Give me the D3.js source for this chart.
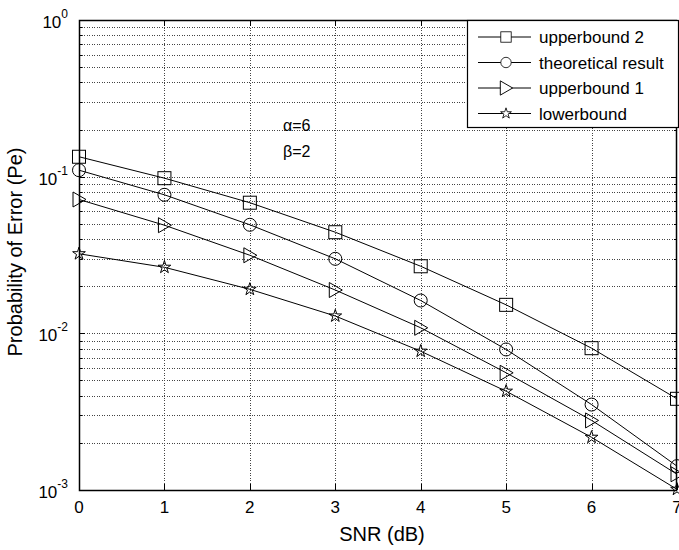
<!DOCTYPE html>
<meta charset="utf-8">
<style>
body { margin: 0; background: #fff; }
text { font-family: "Liberation Sans", Arial, sans-serif; fill: #000; }
.grid line { stroke: #444; stroke-width: 1; stroke-dasharray: 1,1.5; shape-rendering: crispEdges; }
</style>
<svg width="679" height="550"></svg>
<script src="https://d3js.org/d3.v7.min.js"></script>
<script>

var snr = [0, 1, 2, 3, 4, 5, 6, 7];
var upper2 = [0.134, 0.0978, 0.0682, 0.0442, 0.0268, 0.0152, 0.00804, 0.00382];
var theory = [0.110, 0.0766, 0.0493, 0.0299, 0.0162, 0.00789, 0.00351, 0.00142];
var upper1 = [0.0715, 0.0490, 0.0315, 0.0189, 0.01085, 0.0056, 0.00278, 0.00126];
var lower = [0.0322, 0.0264, 0.0191, 0.0129, 0.00769, 0.00427, 0.00217, 0.00101];
var seriesNames = ["upperbound 2", "theoretical result", "upperbound 1", "lowerbound"];
var yDecades = [-3, -2, -1, 0];

var svg = d3.select("svg"),
    margin = {top: 20, right: 2, bottom: 60, left: 79},
    width = +svg.attr("width") - margin.left - margin.right,
    height = +svg.attr("height") - margin.top - margin.bottom;

var x = d3.scaleLinear().domain([0, 7]).range([0, width]),
    y = d3.scaleLog().domain([1e-3, 1]).range([height, 0]);

var g = svg.append("g")
    .attr("transform", "translate(" + margin.left + "," + margin.top + ")");

// minor + major y values
var yGrid = [];
yDecades.slice(0, 3).forEach(function(e) {
  for (var k = 1; k < 10; k++) yGrid.push(k * Math.pow(10, e));
});
yGrid.push(1);

// grid
var grid = g.append("g").attr("class", "grid");
grid.selectAll(".gy").data(yGrid.filter(function(v) { return v > 1e-3 && v < 1; }))
  .enter().append("line")
    .attr("x1", 0).attr("x2", width)
    .attr("y1", function(d) { return Math.round(y(d)) + 0.5; })
    .attr("y2", function(d) { return Math.round(y(d)) + 0.5; });
grid.selectAll(".gx").data(snr.slice(1, 7))
  .enter().append("line")
    .attr("y1", 0).attr("y2", height)
    .attr("x1", function(d) { return Math.round(x(d)) + 0.5; })
    .attr("x2", function(d) { return Math.round(x(d)) + 0.5; });

// ticks (inward)
var ticks = g.append("g").attr("stroke", "#000").attr("shape-rendering", "crispEdges");
yGrid.forEach(function(v) {
  var len = (Math.abs(Math.log10(v) - Math.round(Math.log10(v))) < 1e-9) ? 6 : 3;
  var yy = Math.round(y(v)) + 0.5;
  ticks.append("line").attr("x1", 0).attr("x2", len).attr("y1", yy).attr("y2", yy);
  ticks.append("line").attr("x1", width).attr("x2", width - len).attr("y1", yy).attr("y2", yy);
});
snr.forEach(function(v) {
  var xx = Math.round(x(v)) + 0.5;
  ticks.append("line").attr("x1", xx).attr("x2", xx).attr("y1", height).attr("y2", height - 6);
  ticks.append("line").attr("x1", xx).attr("x2", xx).attr("y1", 0).attr("y2", 6);
});

// frame
g.append("rect")
    .attr("x", 0.5).attr("y", 0.5)
    .attr("width", width - 1).attr("height", height)
    .attr("fill", "none").attr("stroke", "#000").attr("stroke-width", 1.5);

// x tick labels
g.selectAll(".xl").data(snr).enter().append("text")
    .attr("x", function(d) { return x(d); })
    .attr("y", height + 23)
    .attr("text-anchor", "middle")
    .style("font-size", "17px")
    .text(function(d) { return d; });

// y tick labels 10^e
yDecades.forEach(function(e) {
  var t = g.append("text")
      .attr("x", -11)
      .attr("y", y(Math.pow(10, e)) + 8)
      .attr("text-anchor", "end")
      .style("font-size", "17px");
  t.append("tspan").text("10");
  t.append("tspan").attr("dy", -10).style("font-size", "12px").text(e);
});

// axis labels
svg.append("text")
    .attr("x", 382)
    .attr("y", 541)
    .attr("text-anchor", "middle")
    .style("font-size", "20px")
    .text("SNR (dB)");
svg.append("text")
    .attr("transform", "translate(22,252) rotate(-90)")
    .attr("text-anchor", "middle")
    .style("font-size", "20px")
    .text("Probability of Error (Pe)");

// annotation
g.append("text").attr("x", 204).attr("y", 111).style("font-size", "16px").text("\u03b1=6");
g.append("text").attr("x", 204).attr("y", 137).style("font-size", "16px").text("\u03b2=2");

// markers
var symStar = d3.symbol().type(d3.symbolStar).size(50);
function marker(sel, kind) {
  if (kind === 0) {
    sel.append("rect").attr("x", -6.5).attr("y", -6.5).attr("width", 13).attr("height", 13);
  } else if (kind === 1) {
    sel.append("circle").attr("r", 6.5);
  } else if (kind === 2) {
    sel.append("path").attr("d", "M-6,-7.5L7,0L-6,7.5Z");
  } else {
    sel.append("path").attr("d", symStar);
  }
  sel.selectAll("*").attr("fill", "none").attr("stroke", "#000").attr("stroke-width", 1);
}

var allSeries = [upper2, theory, upper1, lower];
var line = d3.line()
    .x(function(d, i) { return x(snr[i]); })
    .y(function(d) { return y(d); });

var plot = g.append("g");
allSeries.forEach(function(vals, k) {
  plot.append("path")
      .attr("d", line(vals))
      .attr("fill", "none")
      .attr("stroke", "#000")
      .attr("stroke-width", 1);
  vals.forEach(function(v, i) {
    var m = plot.append("g").attr("transform", "translate(" + x(snr[i]) + "," + y(v) + ")");
    marker(m, k);
  });
});

// legend
var lg = svg.append("g").attr("transform", "translate(467,20)");
lg.append("rect")
    .attr("x", 0.5).attr("y", 0.5)
    .attr("width", 211).attr("height", 107)
    .attr("fill", "#fff").attr("stroke", "#000").attr("stroke-width", 1.2);
var lgScale = [0.8, 0.8, 0.95, 0.85];
seriesNames.forEach(function(name, k) {
  var yy = 17 + k * 25.5;
  lg.append("line").attr("x1", 11).attr("x2", 64).attr("y1", yy).attr("y2", yy)
      .attr("stroke", "#000");
  var m = lg.append("g").attr("transform", "translate(39," + yy + ") scale(" + lgScale[k] + ")");
  marker(m, k);
  m.selectAll("*").attr("fill", "#fff");
  lg.append("text").attr("x", 72).attr("y", yy + 6)
      .style("font-size", "17px").text(name);
});

</script>
